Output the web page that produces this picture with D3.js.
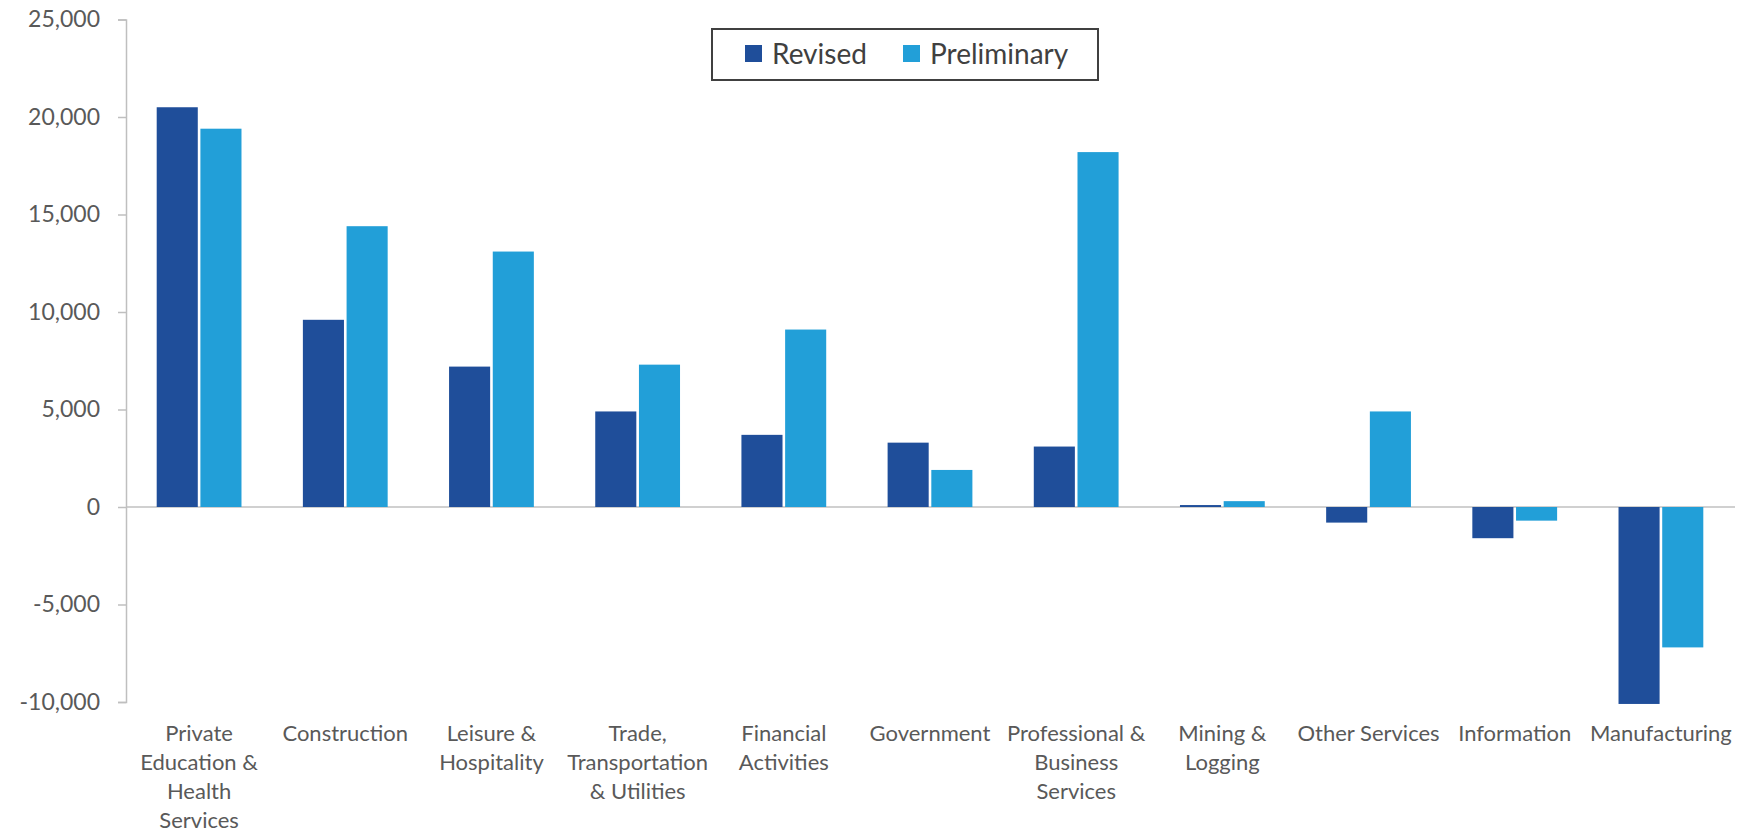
<!DOCTYPE html>
<html>
<head>
<meta charset="utf-8">
<script src="https://cdn.jsdelivr.net/npm/d3@7"></script>
<style>
    html, body { margin: 0; padding: 0; background: #fff; }
    svg { display: block; font-family: Lato, "Open Sans", sans-serif; }
</style>
</head>
<body>
<div id="chart"></div>
<script>
    // Data
    var categories = [
        "Private Education & Health Services", "Construction", "Leisure & Hospitality",
        "Trade, Transportation & Utilities", "Financial Activities", "Government",
        "Professional & Business Services", "Mining & Logging", "Other Services",
        "Information", "Manufacturing"
    ];
    var labelLines = [
        ["Private", "Education &", "Health", "Services"],
        ["Construction"],
        ["Leisure &", "Hospitality"],
        ["Trade,", "Transportation", "& Utilities"],
        ["Financial", "Activities"],
        ["Government"],
        ["Professional &", "Business", "Services"],
        ["Mining &", "Logging"],
        ["Other Services"],
        ["Information"],
        ["Manufacturing"]
    ];
    var seriesNames = ["Revised", "Preliminary"];
    var revised = [20500, 9600, 7200, 4900, 3700, 3300, 3100, 100, -800, -1600, -10100];
    var preliminary = [19400, 14400, 13100, 7300, 9100, 1900, 18200, 300, 4900, -700, -7200];
    var yTicks = [-10000, -5000, 0, 5000, 10000, 15000, 20000, 25000];

    var colors = { "Revised": "#1f4e9a", "Preliminary": "#229fd8" };

    var width = 1742, height = 833;
    var plotLeft = 126, plotRight = 1734, plotTop = 19.5, plotBottom = 702;

    var svg = d3.select("#chart").append("svg")
        .attr("width", width)
        .attr("height", height);

    var x = d3.scaleBand()
        .domain(categories)
        .range([plotLeft, plotRight])
        .paddingInner(0.42)
        .paddingOuter(0.21);

    var xs = d3.scaleBand()
        .domain(seriesNames)
        .range([0, x.bandwidth()])
        .paddingInner(0.06);

    var y = d3.scaleLinear()
        .domain([-10000, 25000])
        .range([plotBottom, plotTop]);

    var fmt = d3.formatLocale({
        decimal: ".", thousands: ",", grouping: [3], currency: ["$", ""], minus: "-"
    }).format(",");

    // zero line
    svg.append("line")
        .attr("x1", plotLeft).attr("x2", plotRight + 1)
        .attr("y1", y(0)).attr("y2", y(0))
        .attr("stroke", "#d0d0d0")
        .attr("stroke-width", 2);

    // y axis
    var yAxis = svg.append("g")
        .attr("transform", "translate(" + plotLeft + ",0)")
        .call(d3.axisLeft(y).tickValues(yTicks).tickSize(8).tickPadding(18).tickFormat(fmt));
    yAxis.attr("font-family", null);
    yAxis.select(".domain").attr("stroke", "#bfbfbf").attr("stroke-width", 1.5);
    yAxis.selectAll(".tick line").attr("stroke", "#bfbfbf").attr("stroke-width", 1.5);
    yAxis.selectAll(".tick text")
        .attr("fill", "#595959")
        .style("font-family", "Lato, 'Open Sans', sans-serif")
        .style("font-size", "23px");

    // bars
    var rows = categories.map(function (c, i) {
        return { cat: c, values: [
            { name: "Revised", value: revised[i] },
            { name: "Preliminary", value: preliminary[i] }
        ] };
    });

    var groups = svg.selectAll("g.cat")
        .data(rows)
        .enter().append("g")
        .attr("class", "cat")
        .attr("transform", function (d) { return "translate(" + x(d.cat) + ",0)"; });

    groups.selectAll("rect")
        .data(function (d) { return d.values; })
        .enter().append("rect")
        .attr("x", function (d) { return xs(d.name); })
        .attr("width", xs.bandwidth())
        .attr("y", function (d) { return y(Math.max(0, d.value)); })
        .attr("height", function (d) { return Math.abs(y(d.value) - y(0)); })
        .attr("fill", function (d) { return colors[d.name]; });

    // category labels
    var labels = svg.selectAll("text.cat")
        .data(categories)
        .enter().append("text")
        .attr("class", "cat")
        .attr("text-anchor", "middle")
        .attr("fill", "#595959")
        .style("font-size", "22px");

    labels.each(function (c, i) {
        var t = d3.select(this);
        labelLines[i].forEach(function (line, j) {
            t.append("tspan")
                .attr("x", x(c) + x.bandwidth() / 2)
                .attr("y", 741 + j * 29)
                .text(line);
        });
    });

    // legend
    var legend = svg.append("g");
    legend.append("rect")
        .attr("x", 712).attr("y", 29)
        .attr("width", 386).attr("height", 51)
        .attr("fill", "#fff")
        .attr("stroke", "#404040")
        .attr("stroke-width", 2);

    var legendX = { "Revised": 745, "Preliminary": 903 };
    seriesNames.forEach(function (s) {
        legend.append("rect")
            .attr("x", legendX[s]).attr("y", 45)
            .attr("width", 17).attr("height", 17)
            .attr("fill", colors[s]);
        legend.append("text")
            .attr("x", legendX[s] + 27).attr("y", 54)
            .attr("dy", "0.35em")
            .attr("fill", "#404040")
            .style("font-size", "28px")
            .text(s);
    });
</script>
</body>
</html>
